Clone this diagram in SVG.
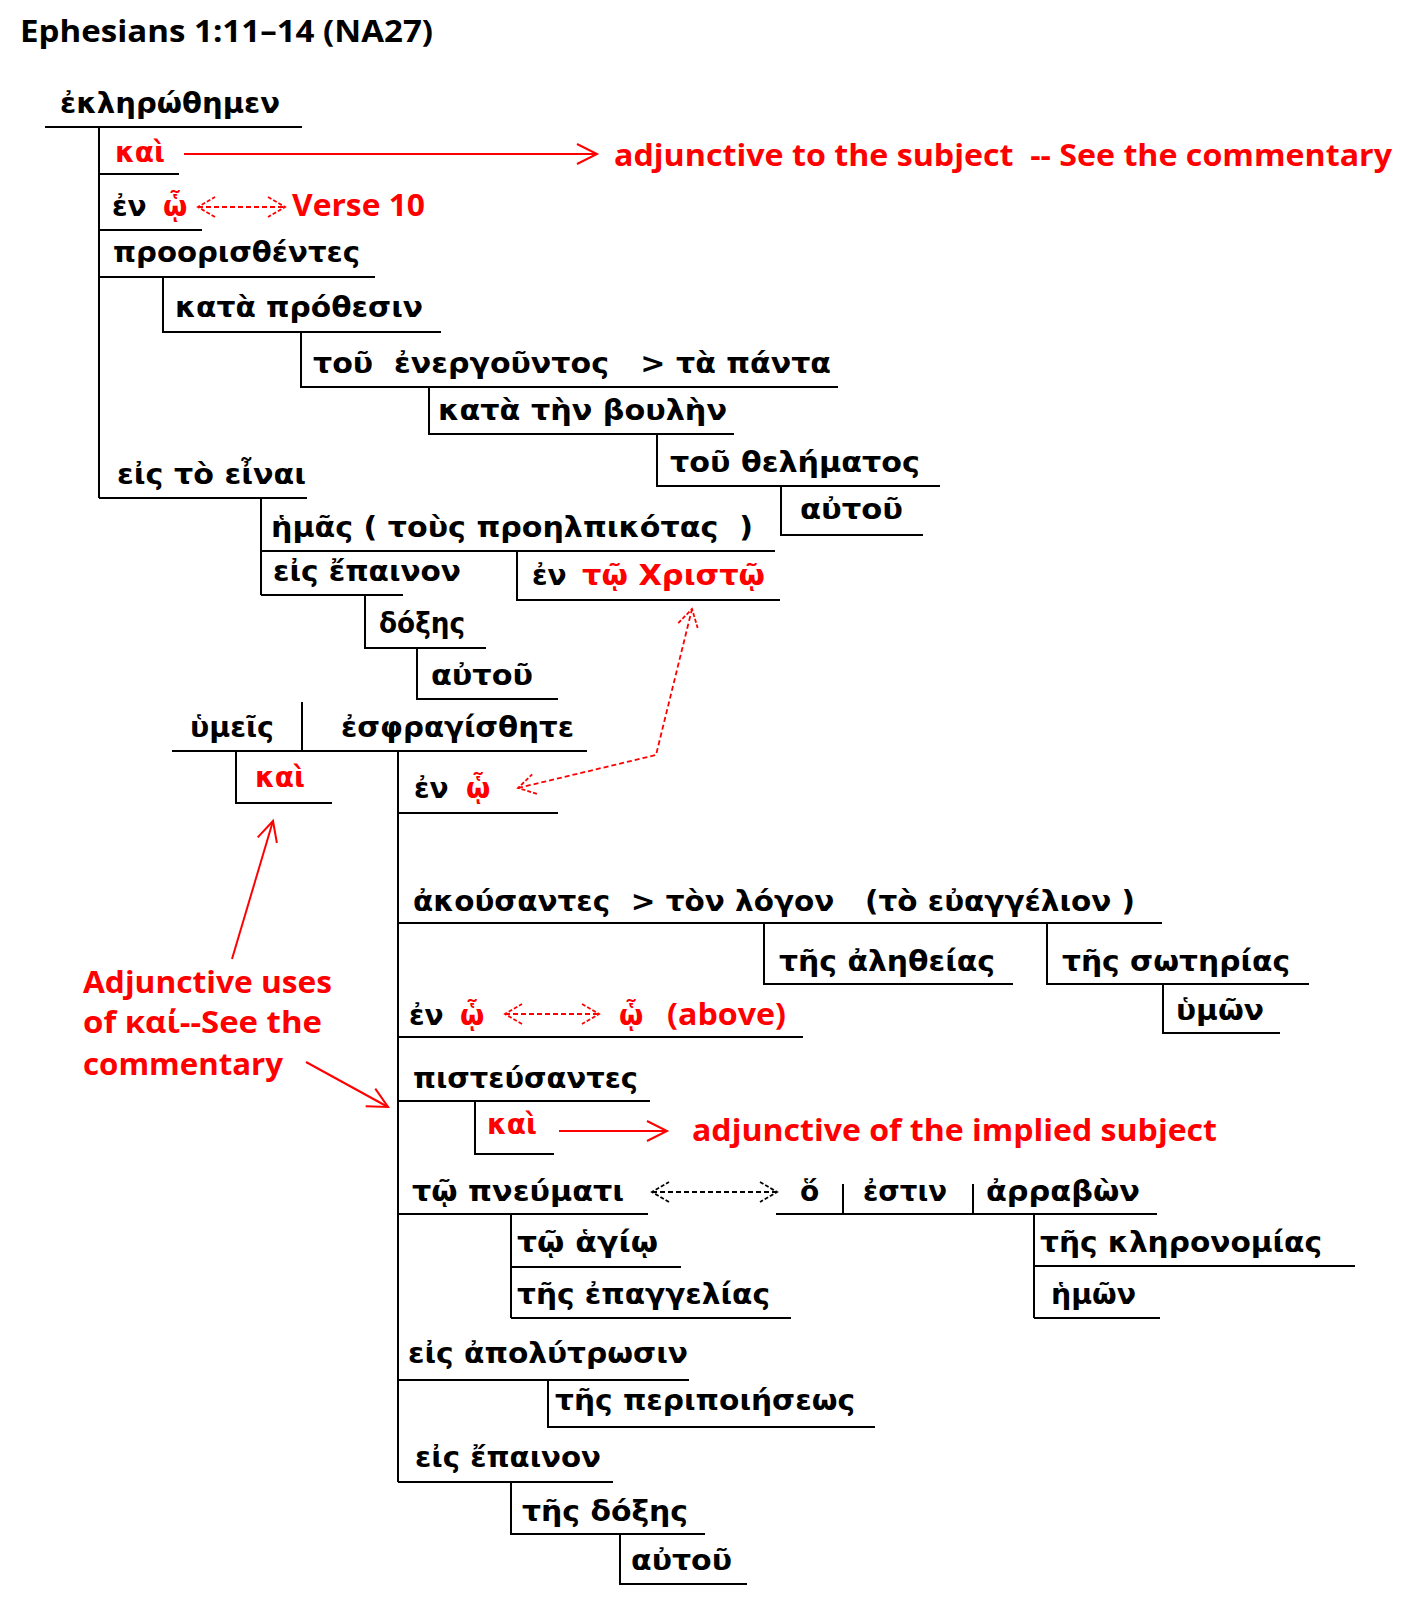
<svg xmlns="http://www.w3.org/2000/svg" width="1413" height="1600" viewBox="0 0 1413 1600">
<style>
text{white-space:pre}
.g{font-family:"DejaVu Sans","Noto Sans",sans-serif;font-weight:bold;font-size:28px;fill:#000}
.r{fill:#f00}
.e{font-family:"Open Sans","Noto Sans",sans-serif;font-weight:bold;font-size:31px;fill:#f00}
.t{font-family:"Open Sans","Noto Sans",sans-serif;font-weight:bold;font-size:30px;fill:#000}
.l{stroke:#000;stroke-width:2;fill:none}
.ra{stroke:#f00;stroke-width:2;fill:none}
.rd{stroke:#f00;stroke-width:1.8;stroke-dasharray:5,3;fill:none}
.kd{stroke:#000;stroke-width:1.8;stroke-dasharray:5,3;fill:none}
</style>
<defs>
<marker id="ar" markerUnits="userSpaceOnUse" markerWidth="26" markerHeight="26" viewBox="-23 -13 26 26" refX="0" refY="0" orient="auto-start-reverse"><path d="M-20,-10 L0,0 L-20,10" fill="none" stroke="#f00" stroke-width="2"/></marker>
<marker id="dr" markerUnits="userSpaceOnUse" markerWidth="24" markerHeight="24" viewBox="-21 -12 24 24" refX="0" refY="0" orient="auto-start-reverse"><path d="M-17,-10 L0,0 L-17,10" fill="none" stroke="#f00" stroke-width="1.8" stroke-dasharray="4,2"/></marker>
<marker id="dk" markerUnits="userSpaceOnUse" markerWidth="24" markerHeight="24" viewBox="-21 -12 24 24" refX="0" refY="0" orient="auto-start-reverse"><path d="M-17,-10 L0,0 L-17,10" fill="none" stroke="#000" stroke-width="1.8" stroke-dasharray="4,2"/></marker>
</defs>

<text class="t" x="20" y="42" textLength="413" lengthAdjust="spacingAndGlyphs">Ephesians 1:11–14 (NA27)</text>

<g id="lines">
<path class="l" d="M45,127H302 M99,127V498"/>
<path class="l" d="M99,174H179 M99,230H202 M99,277H375"/>
<path class="l" d="M163,277V332H441 M301,332V387H838 M429,387V434H734 M657,434V486H940 M781,486V535H923"/>
<path class="l" d="M99,498H307 M261,498V595 M261,551H775 M517,551V600H780 M261,595H403 M365,595V648H486 M417,648V699H558"/>
<path class="l" d="M172,751H587 M302,702V751 M236,751V803H332 M398,751V1482 M398,813H558"/>
<path class="l" d="M398,923H1162 M764,923V984H1013 M1047,923V984H1309 M1163,984V1033H1280 M398,1037H803"/>
<path class="l" d="M398,1101H650 M475,1101V1154H554 M398,1214H648 M776,1214H1157 M843,1184V1214 M973,1184V1214"/>
<path class="l" d="M1034,1214V1318 M1034,1266H1355 M1034,1318H1160 M511,1214V1318 M511,1267H681 M511,1318H791"/>
<path class="l" d="M398,1380H689 M548,1380V1427H875 M398,1482H613 M511,1482V1534H705 M620,1534V1584H747"/>
</g>

<g id="connectors">
<line class="ra" x1="184" y1="154" x2="597" y2="154" marker-end="url(#ar)"/>
<line class="rd" x1="198" y1="207" x2="285" y2="207" marker-start="url(#dr)" marker-end="url(#dr)"/>
<polyline class="rd" points="518,788 656,755 692,609" marker-start="url(#dr)" marker-end="url(#dr)"/>
<line class="rd" x1="505" y1="1014" x2="599" y2="1014" marker-start="url(#dr)" marker-end="url(#dr)"/>
<line class="ra" x1="232" y1="959" x2="273" y2="821" marker-end="url(#ar)"/>
<line class="ra" x1="306" y1="1062" x2="388" y2="1107" marker-end="url(#ar)"/>
<line class="ra" x1="559" y1="1131" x2="667" y2="1131" marker-end="url(#ar)"/>
<line class="kd" x1="652" y1="1192" x2="777" y2="1192" marker-start="url(#dk)" marker-end="url(#dk)"/>
</g>

<g id="n-ekleronthemen"><text class="g" x="60" y="113" textLength="220" lengthAdjust="spacingAndGlyphs">ἐκληρώθημεν</text></g>
<g id="n-kai1"><text class="g r" x="115" y="162" textLength="50" lengthAdjust="spacingAndGlyphs">καὶ</text></g>
<g id="n-note1"><text class="e" x="614" y="166" textLength="778" lengthAdjust="spacingAndGlyphs">adjunctive to the subject  -- See the commentary</text></g>
<g id="n-enho1"><text class="g" x="112" y="216">ἐν</text><text class="g r" x="163" y="216">ᾧ</text></g>
<g id="n-verse10"><text class="e" x="292" y="216" textLength="133" lengthAdjust="spacingAndGlyphs">Verse 10</text></g>
<g id="n-proor"><text class="g" x="113" y="262" textLength="247" lengthAdjust="spacingAndGlyphs">προορισθέντες</text></g>
<g id="n-prothesin"><text class="g" x="175" y="317" textLength="248" lengthAdjust="spacingAndGlyphs">κατὰ πρόθεσιν</text></g>
<g id="n-energ"><text class="g" x="313" y="373" textLength="518" lengthAdjust="spacingAndGlyphs">τοῦ  ἐνεργοῦντος   &gt; τὰ πάντα</text></g>
<g id="n-boulen"><text class="g" x="438" y="420" textLength="289" lengthAdjust="spacingAndGlyphs">κατὰ τὴν βουλὴν</text></g>
<g id="n-thelem"><text class="g" x="670" y="472" textLength="250" lengthAdjust="spacingAndGlyphs">τοῦ θελήματος</text></g>
<g id="n-autou1"><text class="g" x="800" y="519" textLength="103" lengthAdjust="spacingAndGlyphs">αὐτοῦ</text></g>
<g id="n-einai"><text class="g" x="117" y="484" textLength="189" lengthAdjust="spacingAndGlyphs">εἰς τὸ εἶναι</text></g>
<g id="n-hemas"><text class="g" x="271" y="537" textLength="482" lengthAdjust="spacingAndGlyphs">ἡμᾶς ( τοὺς προηλπικότας  )</text></g>
<g id="n-epainon1"><text class="g" x="273" y="581" textLength="188" lengthAdjust="spacingAndGlyphs">εἰς ἔπαινον</text></g>
<g id="n-christo"><text class="g" x="532" y="585">ἐν</text><text class="g r" x="582" y="585" textLength="183" lengthAdjust="spacingAndGlyphs">τῷ Χριστῷ</text></g>
<g id="n-doxes1"><text class="g" x="379" y="633" textLength="86" lengthAdjust="spacingAndGlyphs">δόξης</text></g>
<g id="n-autou2"><text class="g" x="431" y="685" textLength="102" lengthAdjust="spacingAndGlyphs">αὐτοῦ</text></g>
<g id="n-hymeis"><text class="g" x="190" y="737" textLength="84" lengthAdjust="spacingAndGlyphs">ὑμεῖς</text></g>
<g id="n-esphrag"><text class="g" x="341" y="737" textLength="233" lengthAdjust="spacingAndGlyphs">ἐσφραγίσθητε</text></g>
<g id="n-kai2"><text class="g r" x="255" y="787" textLength="50" lengthAdjust="spacingAndGlyphs">καὶ</text></g>
<g id="n-enho2"><text class="g" x="414" y="798">ἐν</text><text class="g r" x="466" y="798">ᾧ</text></g>
<g id="n-akous"><text class="g" x="413" y="911" textLength="722" lengthAdjust="spacingAndGlyphs">ἀκούσαντες  &gt; τὸν λόγον   (τὸ εὐαγγέλιον )</text></g>
<g id="n-aletheias"><text class="g" x="779" y="971" textLength="216" lengthAdjust="spacingAndGlyphs">τῆς ἀληθείας</text></g>
<g id="n-soterias"><text class="g" x="1062" y="971" textLength="228" lengthAdjust="spacingAndGlyphs">τῆς σωτηρίας</text></g>
<g id="n-hymon"><text class="g" x="1176" y="1020" textLength="88" lengthAdjust="spacingAndGlyphs">ὑμῶν</text></g>
<g id="n-enho3"><text class="g" x="409" y="1025">ἐν</text><text class="g r" x="460" y="1025">ᾧ</text><text class="g r" x="619" y="1025">ᾧ</text><text class="e" x="667" y="1025" textLength="119" lengthAdjust="spacingAndGlyphs">(above)</text></g>
<g id="n-note2"><text class="e" x="83" y="993" textLength="249" lengthAdjust="spacingAndGlyphs">Adjunctive uses</text><text class="e" x="83" y="1033" textLength="239" lengthAdjust="spacingAndGlyphs">of καί--See the</text><text class="e" x="83" y="1075" textLength="200" lengthAdjust="spacingAndGlyphs">commentary</text></g>
<g id="n-pisteus"><text class="g" x="413" y="1088" textLength="225" lengthAdjust="spacingAndGlyphs">πιστεύσαντες</text></g>
<g id="n-kai3"><text class="g r" x="487" y="1134" textLength="50" lengthAdjust="spacingAndGlyphs">καὶ</text></g>
<g id="n-note3"><text class="e" x="692" y="1141" textLength="525" lengthAdjust="spacingAndGlyphs">adjunctive of the implied subject</text></g>
<g id="n-pneumati"><text class="g" x="412" y="1201" textLength="212" lengthAdjust="spacingAndGlyphs">τῷ πνεύματι</text></g>
<g id="n-ho"><text class="g" x="800" y="1201">ὅ</text><text class="g" x="863" y="1201" textLength="84" lengthAdjust="spacingAndGlyphs">ἐστιν</text><text class="g" x="986" y="1201" textLength="154" lengthAdjust="spacingAndGlyphs">ἀρραβὼν</text></g>
<g id="n-kleron"><text class="g" x="1040" y="1252" textLength="282" lengthAdjust="spacingAndGlyphs">τῆς κληρονομίας</text></g>
<g id="n-hemon"><text class="g" x="1051" y="1304" textLength="85" lengthAdjust="spacingAndGlyphs">ἡμῶν</text></g>
<g id="n-hagio"><text class="g" x="517" y="1252" textLength="141" lengthAdjust="spacingAndGlyphs">τῷ ἁγίῳ</text></g>
<g id="n-epang"><text class="g" x="517" y="1304" textLength="253" lengthAdjust="spacingAndGlyphs">τῆς ἐπαγγελίας</text></g>
<g id="n-apolyt"><text class="g" x="408" y="1363" textLength="280" lengthAdjust="spacingAndGlyphs">εἰς ἀπολύτρωσιν</text></g>
<g id="n-peripoi"><text class="g" x="555" y="1410" textLength="300" lengthAdjust="spacingAndGlyphs">τῆς περιποιήσεως</text></g>
<g id="n-epainon2"><text class="g" x="415" y="1467" textLength="186" lengthAdjust="spacingAndGlyphs">εἰς ἔπαινον</text></g>
<g id="n-doxes2"><text class="g" x="522" y="1521" textLength="166" lengthAdjust="spacingAndGlyphs">τῆς δόξης</text></g>
<g id="n-autou3"><text class="g" x="631" y="1570" textLength="101" lengthAdjust="spacingAndGlyphs">αὐτοῦ</text></g>
</svg>
